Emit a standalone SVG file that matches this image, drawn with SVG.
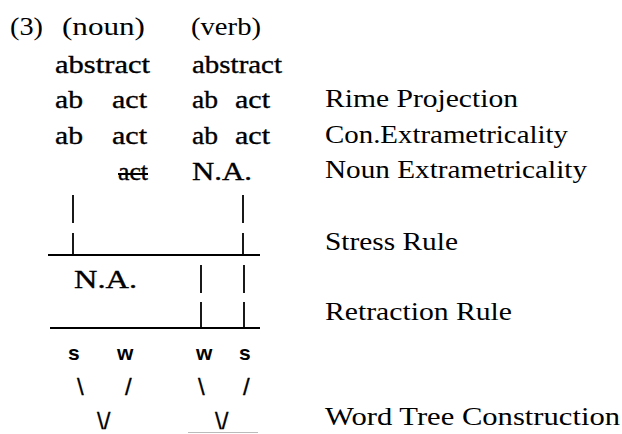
<svg xmlns="http://www.w3.org/2000/svg" width="622" height="434" viewBox="0 0 622 434">
<style>
text { font-family: "Liberation Serif", "Times New Roman", serif; font-size: 26px; fill: #000; }
.h { stroke: #000; stroke-width: 0.35; }
.sw { font-family: "Liberation Sans", Arial, sans-serif; font-size: 21px; font-weight: bold; }
.sl { font-family: "Liberation Sans", Arial, sans-serif; font-size: 24px; stroke: #000; stroke-width: 0.3; }
.ln { stroke: #000; stroke-width: 2; fill: none; }
.bar { stroke: #000; stroke-width: 1.8; fill: none; }
</style>
<rect width="622" height="434" fill="#fff"/>
<g id="header">
<text x="10" y="35" textLength="33" lengthAdjust="spacingAndGlyphs">(3)</text>
<text x="62" y="35" textLength="83" lengthAdjust="spacingAndGlyphs">(noun)</text>
<text x="191" y="35" textLength="70" lengthAdjust="spacingAndGlyphs">(verb)</text>
</g>
<g id="row-abstract" class="h">
<text x="55" y="73" textLength="95" lengthAdjust="spacingAndGlyphs">abstract</text>
<text x="192" y="73" textLength="90" lengthAdjust="spacingAndGlyphs">abstract</text>
</g>
<g id="row-rime" class="h">
<text x="55" y="108" textLength="28" lengthAdjust="spacingAndGlyphs">ab</text>
<text x="112" y="108" textLength="35" lengthAdjust="spacingAndGlyphs">act</text>
<text x="192" y="108" textLength="26" lengthAdjust="spacingAndGlyphs">ab</text>
<text x="235" y="108" textLength="35" lengthAdjust="spacingAndGlyphs">act</text>
</g>
<g id="row-con" class="h">
<text x="55" y="144" textLength="28" lengthAdjust="spacingAndGlyphs">ab</text>
<text x="112" y="144" textLength="35" lengthAdjust="spacingAndGlyphs">act</text>
<text x="192" y="144" textLength="26" lengthAdjust="spacingAndGlyphs">ab</text>
<text x="235" y="144" textLength="35" lengthAdjust="spacingAndGlyphs">act</text>
</g>
<g id="row-noun" class="h">
<text x="118" y="180" textLength="30" lengthAdjust="spacingAndGlyphs">act</text>
<text x="192" y="180" textLength="60" lengthAdjust="spacingAndGlyphs">N.A.</text>
</g>
<g id="labels">
<text x="325" y="107" textLength="193" lengthAdjust="spacingAndGlyphs">Rime Projection</text>
<text x="325" y="143" textLength="243" lengthAdjust="spacingAndGlyphs">Con.Extrametricality</text>
<text x="325" y="178" textLength="262" lengthAdjust="spacingAndGlyphs">Noun Extrametricality</text>
<text x="325" y="250" textLength="133" lengthAdjust="spacingAndGlyphs">Stress Rule</text>
<text x="325" y="320" textLength="187" lengthAdjust="spacingAndGlyphs">Retraction Rule</text>
<text x="325" y="425" textLength="295" lengthAdjust="spacingAndGlyphs">Word Tree Construction</text>
</g>
<g id="connectors">
<line class="ln" x1="118" y1="174" x2="148" y2="174" stroke-width="1.6"/>
<line class="bar" x1="73" y1="195" x2="73" y2="223"/>
<line class="bar" x1="73" y1="233" x2="73" y2="255"/>
<line class="bar" x1="243" y1="195" x2="243" y2="223"/>
<line class="bar" x1="243" y1="233" x2="243" y2="255"/>
<line class="ln" x1="48" y1="255" x2="260" y2="255"/>
<line class="bar" x1="201" y1="265" x2="201" y2="293"/>
<line class="bar" x1="201" y1="302" x2="201" y2="328"/>
<line class="bar" x1="244" y1="265" x2="244" y2="293"/>
<line class="bar" x1="244" y1="302" x2="244" y2="328"/>
<line class="ln" x1="50" y1="328" x2="260" y2="328"/>
<line x1="188" y1="432.5" x2="258" y2="432.5" stroke="#bbb" stroke-width="1"/>
</g>
<g id="retraction" class="h">
<text x="74" y="288" textLength="63" lengthAdjust="spacingAndGlyphs">N.A.</text>
</g>
<g id="tree">
<text class="sw" x="68" y="360">s</text>
<text class="sw" x="117" y="360">w</text>
<text class="sw" x="196" y="360">w</text>
<text class="sw" x="239" y="360">s</text>
<text class="sl" x="77" y="395">\</text>
<text class="sl" x="125" y="395">/</text>
<text class="sl" x="198" y="395">\</text>
<text class="sl" x="243" y="395">/</text>
<text class="sl" x="97" y="429">\/</text>
<text class="sl" x="215" y="429">\/</text>
</g>
</svg>
